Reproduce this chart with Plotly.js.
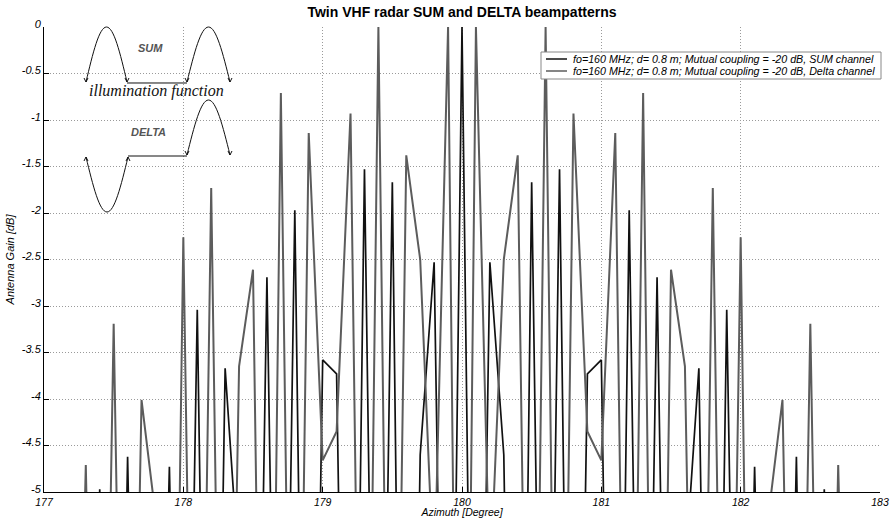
<!DOCTYPE html>
<html><head><meta charset="utf-8">
<script src="https://cdn.plot.ly/plotly-3.0.1.min.js"></script>
<style>html,body{margin:0;padding:0;background:#fff}#chart{width:890px;height:518px}</style>
</head><body><div id="chart"></div>
<script>
// Azimuth samples [deg]
const azimuth = [177.0,177.1,177.2,177.3,177.4,177.5,177.6,177.7,177.8,177.9,
  178.0,178.1,178.2,178.3,178.4,178.5,178.6,178.7,178.8,178.9,
  179.0,179.1,179.2,179.3,179.4,179.5,179.6,179.7,179.8,179.9,
  180.0,180.1,180.2,180.3,180.4,180.5,180.6,180.7,180.8,180.9,
  181.0,181.1,181.2,181.3,181.4,181.5,181.6,181.7,181.8,181.9,
  182.0,182.1,182.2,182.3,182.4,182.5,182.6,182.7,182.8,182.9,183.0];
// SUM channel gain [dB] (values below -5 are clipped by the axis)
const sumGain = [-14,-12,-15,-11,-4.97,-13,-4.62,-12,-11,-4.73,
  -12,-3.04,-13,-3.67,-5.9,-12,-2.69,-12,-1.97,-13,
  -3.58,-3.73,-13,-1.53,-12,-1.67,-14,-4.6,-2.53,-12,
  0,-12,-2.53,-4.6,-14,-1.67,-12,-1.53,-13,-3.73,
  -3.58,-13,-1.97,-12,-2.69,-12,-5.9,-3.67,-13,-3.04,
  -12,-4.73,-11,-12,-4.62,-13,-4.97,-11,-15,-12,-14];
// DELTA channel gain [dB]
const deltaGain = [-13,-15,-11,-4.71,-12,-3.19,-12,-4.01,-5.25,-13,
  -2.26,-12,-1.73,-12,-3.65,-2.61,-13,-0.71,-12,-1.14,
  -4.66,-4.35,-0.93,-12,0,-12,-1.38,-2.5,-6.07,0,
  -14,0,-6.07,-2.5,-1.38,-12,0,-12,-0.93,-4.35,
  -4.66,-1.14,-12,-0.71,-13,-2.61,-3.65,-12,-1.73,-12,
  -2.26,-13,-5.25,-4.01,-12,-3.19,-12,-4.71,-11,-15,-13];

const xTickVals = [177,178,179,180,181,182,183];
const xTickText = ['177','178','179','180','181','182','183'];
const yTickVals = [0,-0.5,-1,-1.5,-2,-2.5,-3,-3.5,-4,-4.5,-5];
const yTickText = ['0','-0.5','-1','-1.5','-2','-2.5','-3','-3.5','-4','-4.5','-5'];

const seriesNames = ['fo=160 MHz; d= 0.8 m; Mutual coupling = -20 dB, SUM channel',
                     'fo=160 MHz; d= 0.8 m; Mutual coupling = -20 dB, Delta channel'];
const seriesColors = ['#111111', '#5c5c5c'];

const FONT = 'Liberation Sans, Arial, sans-serif';
const W = 890, H = 518;
const PL = 44, PR = 880, PT = 27, PB = 492;
const px2x = p => (p - PL) / (PR - PL);
const py2y = p => (PB - p) / (PB - PT);
const pt = (x, y) => px2x(x).toFixed(5) + ',' + py2y(y).toFixed(5);

function hump(x0, x1, yb, yp) {
  const w = x1 - x0, h = yp - yb;
  return 'M' + pt(x0, yb) +
    ' C' + pt(x0 + 0.1671 * w, yb + 0.5251 * h) + ' ' + pt(x0 + 0.32 * w, yp) + ' ' + pt(x0 + 0.5 * w, yp) +
    ' C' + pt(x0 + 0.68 * w, yp) + ' ' + pt(x0 + 0.8329 * w, yb + 0.5251 * h) + ' ' + pt(x1, yb);
}
function seg(x0, y0, x1, y1) { return 'M' + pt(x0, y0) + ' L' + pt(x1, y1); }
function tip(x, y, dir) { return 'M' + pt(x - 2, y - 4 * dir) + ' L' + pt(x, y) + ' L' + pt(x + 2, y - 4 * dir); }

const inkPaths = [
  hump(86, 127, 82, 27), seg(127, 83, 187, 83), hump(187, 230, 82, 27),
  tip(86, 82, 1), tip(127, 82, 1), tip(187, 82, 1), tip(230, 82, 1),
  hump(86, 128, 157, 212), seg(128, 156, 187, 156), hump(187, 230, 155, 100),
  tip(86, 157, -1), tip(128, 157, -1), tip(187, 155, 1), tip(230, 155, 1)
];
const shapes = inkPaths.map(p => ({
  type: 'path', xref: 'paper', yref: 'paper', path: p,
  line: {color: '#111', width: 1}, layer: 'above'
}));

// legend box (drawn by hand so that its compact MATLAB-like layout is kept)
const LG = {x0: 541, x1: 881, y0: 52, y1: 79, rows: [59, 71], sx0: 546, sx1: 567, tx: 571};
shapes.push({type: 'rect', xref: 'paper', yref: 'paper', x0: px2x(LG.x0), x1: px2x(LG.x1), y0: py2y(LG.y1), y1: py2y(LG.y0),
  fillcolor: '#fff', line: {color: '#888', width: 1}, layer: 'above'});
LG.rows.forEach((ry, i) => shapes.push({type: 'line', xref: 'paper', yref: 'paper',
  x0: px2x(LG.sx0), x1: px2x(LG.sx1), y0: py2y(ry), y1: py2y(ry),
  line: {color: seriesColors[i], width: 1.5}, layer: 'above'}));

const annotations = [
  {text: 'SUM', x: px2x(150), y: py2y(48), font: {family: FONT, size: 11, weight: 'bold', style: 'italic', color: '#555'}},
  {text: 'illumination function', x: px2x(156), y: py2y(91), font: {family: 'Liberation Serif, Times New Roman, serif', size: 16, style: 'italic', color: '#111'}},
  {text: 'DELTA', x: px2x(148), y: py2y(132), font: {family: FONT, size: 11, weight: 'bold', style: 'italic', color: '#555'}}
].map(a => Object.assign({xref: 'paper', yref: 'paper', showarrow: false, xanchor: 'center', yanchor: 'middle'}, a));
LG.rows.forEach((ry, i) => annotations.push({xref: 'paper', yref: 'paper', showarrow: false,
  x: px2x(LG.tx), y: py2y(ry), xanchor: 'left', yanchor: 'middle', text: seriesNames[i],
  font: {family: FONT, size: 10.7, style: 'italic', color: '#000'}}));

const traces = [
  {x: azimuth, y: sumGain, name: seriesNames[0], type: 'scatter', mode: 'lines', line: {color: seriesColors[0], width: 1.7}},
  {x: azimuth, y: deltaGain, name: seriesNames[1], type: 'scatter', mode: 'lines', line: {color: seriesColors[1], width: 2}}
];

const axisCommon = {
  showgrid: true, gridcolor: '#9a9a9a', griddash: '1px,2px', gridwidth: 1,
  zeroline: false, showline: true, linecolor: '#000', linewidth: 1,
  ticks: 'inside', ticklen: 5, tickcolor: '#000', tickwidth: 1,
  tickfont: {family: FONT, size: 11, style: 'italic', color: '#000'},
  tickmode: 'array', automargin: false, mirror: false
};

const layout = {
  width: W, height: H,
  margin: {l: PL, r: W - PR, t: PT, b: H - PB, pad: 0},
  paper_bgcolor: '#fff', plot_bgcolor: '#fff',
  font: {family: FONT, color: '#000'},
  title: {text: 'Twin VHF radar SUM and DELTA beampatterns', font: {family: FONT, size: 14, weight: 'bold', color: '#000'},
    xref: 'paper', x: 0.5, xanchor: 'center', yref: 'container', y: 1 - 12 / H, yanchor: 'middle'},
  xaxis: Object.assign({}, axisCommon, {range: [177, 183], tickvals: xTickVals, ticktext: xTickText,
    tickfont: {family: FONT, size: 10.5, style: 'italic', color: '#000'},
    title: {text: 'Azimuth [Degree]', font: {family: FONT, size: 10.5, style: 'italic', color: '#000'}, standoff: 4}}),
  yaxis: Object.assign({}, axisCommon, {range: [-5, 0], tickvals: yTickVals, ticktext: yTickText, ticklabelshift: -3,
    title: {text: 'Antenna Gain [dB]', font: {family: FONT, size: 11, style: 'italic', color: '#000'}, standoff: 4}}),
  showlegend: false,
  shapes: shapes,
  annotations: annotations
};

Plotly.newPlot('chart', traces, layout, {displayModeBar: false, staticPlot: true});
</script>
</body></html>
